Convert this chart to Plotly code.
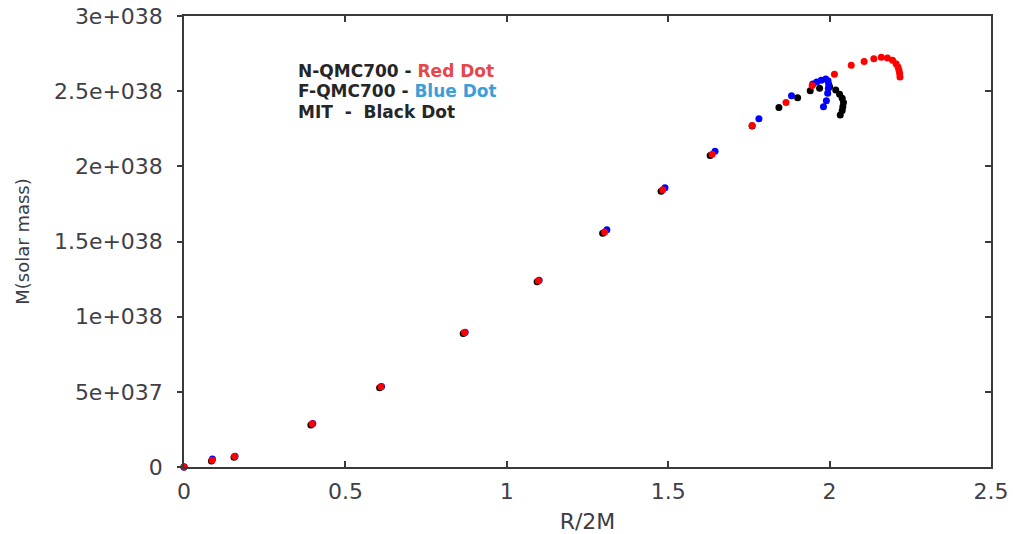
import plotly.graph_objects as go

# Mass (in units of 1e38) against R/2M for the three equations of state
n_qmc700_r = [0.000, 0.087, 0.157, 0.397, 0.610, 0.869, 1.098, 1.303, 1.483, 1.636,
              1.760, 1.865, 1.946, 2.015, 2.067, 2.107, 2.137, 2.160, 2.179, 2.195,
              2.206, 2.212, 2.215, 2.217, 2.218]
n_qmc700_m = [0.000, 0.045, 0.070, 0.287, 0.533, 0.894, 1.239, 1.563, 1.844, 2.081,
              2.271, 2.424, 2.538, 2.613, 2.673, 2.698, 2.716, 2.726, 2.720, 2.706,
              2.683, 2.661, 2.639, 2.617, 2.595]

f_qmc700_r = [0.000, 0.088, 0.158, 0.399, 0.612, 0.871, 1.100, 1.310, 1.490, 1.645,
              1.781, 1.882, 1.948, 1.960, 1.974, 1.988, 1.995, 1.997, 1.996, 1.994,
              1.990, 1.981]
f_qmc700_m = [0.000, 0.053, 0.071, 0.290, 0.536, 0.897, 1.243, 1.578, 1.857, 2.101,
              2.316, 2.470, 2.548, 2.561, 2.573, 2.581, 2.570, 2.548, 2.520, 2.486,
              2.437, 2.397]

mit_r = [0.000, 0.085, 0.155, 0.393, 0.606, 0.865, 1.094, 1.297, 1.478, 1.630,
         1.760, 1.843, 1.901, 1.940, 1.969, 2.000, 2.019, 2.031, 2.039, 2.043,
         2.041, 2.039, 2.033]
mit_m = [0.000, 0.040, 0.065, 0.280, 0.527, 0.888, 1.232, 1.555, 1.834, 2.072,
         2.269, 2.391, 2.457, 2.502, 2.520, 2.530, 2.508, 2.480, 2.453, 2.424,
         2.397, 2.371, 2.342]

MASS_UNIT = 1e38

x_tick_vals = [0, 0.5, 1, 1.5, 2, 2.5]
x_tick_text = ["0", "0.5", "1", "1.5", "2", "2.5"]
y_tick_vals = [0, 0.5e38, 1e38, 1.5e38, 2e38, 2.5e38, 3e38]
y_tick_text = ["0", "5e+037", "1e+038", "1.5e+038", "2e+038", "2.5e+038", "3e+038"]

series = [
    ("MIT", mit_r, mit_m, "#000000"),
    ("F-QMC700", f_qmc700_r, f_qmc700_m, "#0000ff"),
    ("N-QMC700", n_qmc700_r, n_qmc700_m, "#ff0000"),
]

fig = go.Figure()
for name, r, m, color in series:
    fig.add_trace(go.Scatter(
        x=r, y=[v * MASS_UNIT for v in m], mode="markers", name=name,
        marker=dict(size=7, color=color, line=dict(width=0)),
        cliponaxis=False, showlegend=False,
    ))

# empty trace that carries the mirrored top/right axes
fig.add_trace(go.Scatter(x=[], y=[], xaxis="x2", yaxis="y2", showlegend=False))

axis_color = "#3a3a3a"
tick_font = dict(family="DejaVu Sans", size=22, color="#404048")

fig.update_layout(
    width=1013, height=534,
    margin=dict(l=184, r=22, t=16, b=67, autoexpand=False),
    paper_bgcolor="white", plot_bgcolor="white",
    xaxis=dict(
        range=[0, 2.5], tickvals=x_tick_vals, ticktext=x_tick_text,
        showgrid=False, zeroline=False, showline=True, linecolor=axis_color,
        linewidth=1.5, mirror=True, ticks="inside", ticklen=6, tickwidth=1.5,
        tickcolor=axis_color, tickfont=tick_font, ticklabelstandoff=4,
        automargin=False,
        title=dict(text="R/2M", standoff=11,
                   font=dict(family="DejaVu Sans", size=22, color="#3c3c44")),
    ),
    yaxis=dict(
        range=[0, 3e38], tickvals=y_tick_vals, ticktext=y_tick_text,
        showgrid=False, zeroline=False, showline=True, linecolor=axis_color,
        linewidth=1.5, mirror=True, ticks="outside", ticklen=5, tickwidth=1.5,
        tickcolor=axis_color, tickfont=tick_font, ticklabelstandoff=10,
        automargin=False,
        title=dict(text="M(solar mass)", standoff=20,
                   font=dict(family="DejaVu Sans", size=18, color="#3c3c44")),
    ),
    xaxis2=dict(
        overlaying="x", side="top", range=[0, 2.5], tickvals=x_tick_vals,
        showticklabels=False, showgrid=False, zeroline=False, showline=False,
        ticks="inside", ticklen=6, tickwidth=1.5, tickcolor=axis_color,
        automargin=False,
    ),
    yaxis2=dict(
        overlaying="y", side="right", range=[0, 3e38], tickvals=y_tick_vals,
        showticklabels=False, showgrid=False, zeroline=False, showline=False,
        ticks="inside", ticklen=6, tickwidth=1.5, tickcolor=axis_color,
        automargin=False,
    ),
)

# key text written inside the plot
key_font = dict(family="DejaVu Sans", size=17, color="#262626", weight="bold")
key_lines = [
    ("N-QMC700 - <span style='color:#e5484a'>Red Dot</span>", 0.880),
    ("F-QMC700 - <span style='color:#3a9fd8'>Blue Dot</span>", 0.834),
    ("MIT  -  Black Dot", 0.789),
]
for text, ypos in key_lines:
    fig.add_annotation(
        x=0.140, y=ypos, xref="paper", yref="paper", text=text,
        showarrow=False, xanchor="left", yanchor="middle", font=key_font,
        height=19, borderpad=0,
    )

fig.write_html("out.html")
